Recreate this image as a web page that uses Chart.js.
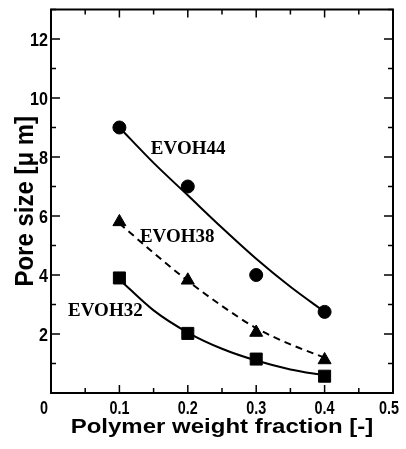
<!DOCTYPE html>
<html>
<head>
<meta charset="utf-8">
<script src="https://cdn.jsdelivr.net/npm/chart.js@4.4.0/dist/chart.umd.min.js"></script>
<style>
  html, body { margin: 0; padding: 0; background: #fff; }
  #wrap { width: 406px; height: 449px; }
</style>
</head>
<body>
<div id="wrap"><canvas id="poreChart"></canvas></div>
<script>
const fractions = [0.1, 0.2, 0.3, 0.4];
const evoh44 = [9.0, 7.0, 4.0, 2.75];
const evoh38 = [5.8, 3.82, 2.05, 1.12];
const evoh32 = [3.9, 2.02, 1.15, 0.57];

// fitted curves
const fitFractions = [0.1, 0.15, 0.2, 0.25, 0.3, 0.35, 0.4];
const fit44 = [9.0, 7.8, 6.7, 5.6, 4.55, 3.6, 2.75];
const fit38 = [5.75, 4.75, 3.8, 2.95, 2.2, 1.65, 1.2];
const fit32 = [3.85, 2.8, 2.05, 1.5, 1.1, 0.8, 0.6];

// axis tick labels
const xTickLabels = ['0', '0.1', '0.2', '0.3', '0.4', '0.5'];
const yTickLabels = ['2', '4', '6', '8', '10', '12'];

// series labels written inside the plot (left end of text, baseline, in data units)
const seriesNames = ['EVOH44', 'EVOH38', 'EVOH32'];
const nameX = [0.146, 0.130, 0.025];
const nameY = [8.1, 5.13, 2.61];

const toPts = (xs, ys) => xs.map((x, i) => ({ x: x, y: ys[i] }));

// frame, inward ticks, tick labels, titles and series names
const framePlugin = {
  id: 'frame',
  afterDraw(chart) {
    const ctx = chart.ctx;
    const a = chart.chartArea;
    const xs = chart.scales.x;
    const ys = chart.scales.y;
    ctx.save();
    ctx.strokeStyle = '#000';
    ctx.lineWidth = 2;
    ctx.strokeRect(a.left, a.top, a.right - a.left, a.bottom - a.top);

    ctx.lineWidth = 1.5;
    ctx.beginPath();
    xs.ticks.forEach(t => {
      const px = xs.getPixelForValue(t.value);
      const major = Math.abs(t.value * 10 - Math.round(t.value * 10)) < 1e-6;
      const len = major ? 8 : 5;
      ctx.moveTo(px, a.bottom); ctx.lineTo(px, a.bottom - len);
      ctx.moveTo(px, a.top); ctx.lineTo(px, a.top + len);
    });
    ys.ticks.forEach(t => {
      const py = ys.getPixelForValue(t.value);
      const major = Math.round(t.value) % 2 === 0;
      const len = major ? 9 : 5;
      ctx.moveTo(a.left, py); ctx.lineTo(a.left + len, py);
      ctx.moveTo(a.right, py); ctx.lineTo(a.right - len, py);
    });
    ctx.stroke();

    ctx.fillStyle = '#000';
    ctx.textBaseline = 'alphabetic';

    // x tick labels, condensed bold
    ctx.font = "bold 18px 'Liberation Sans', Arial, sans-serif";
    ctx.textAlign = 'center';
    xTickLabels.forEach((lab, i) => {
      let px = xs.getPixelForValue(i / 10);
      if (i === 0) px -= 7;
      if (i === xTickLabels.length - 1) px -= 4;
      ctx.save();
      ctx.translate(px, a.bottom + 21);
      ctx.scale(0.8, 1);
      ctx.fillText(lab, 0, 0);
      ctx.restore();
    });

    // y tick labels
    ctx.font = "bold 19px 'Liberation Sans', Arial, sans-serif";
    ctx.textAlign = 'right';
    yTickLabels.forEach((lab, i) => {
      const py = ys.getPixelForValue((i + 1) * 2);
      ctx.save();
      ctx.translate(a.left - 3, py + 7);
      ctx.scale(0.85, 1);
      ctx.fillText(lab, 0, 0);
      ctx.restore();
    });

    // axis titles
    ctx.font = "bold 24px 'Liberation Sans', Arial, sans-serif";
    ctx.textAlign = 'center';
    ctx.save();
    ctx.translate((a.left + a.right) / 2, 433);
    ctx.scale(1, 0.88);
    ctx.fillText('Polymer weight fraction [-]', 0, 0);
    ctx.restore();

    ctx.save();
    ctx.translate(33, (a.top + a.bottom) / 2);
    ctx.rotate(-Math.PI / 2);
    ctx.scale(1, 1.1);
    ctx.fillText('Pore size [\u03bc m]', 0, 0);
    ctx.restore();

    // series names
    ctx.font = "bold 19px 'Liberation Serif', 'Times New Roman', serif";
    ctx.textAlign = 'left';
    seriesNames.forEach((name, i) => {
      ctx.fillText(name, xs.getPixelForValue(nameX[i]), ys.getPixelForValue(nameY[i]));
    });
    ctx.restore();
  }
};

new Chart(document.getElementById('poreChart'), {
  type: 'scatter',
  data: {
    datasets: [
      { label: 'EVOH44', data: toPts(fractions, evoh44), pointStyle: 'circle', pointRadius: 6.5,
        backgroundColor: '#000', borderColor: '#000', showLine: false },
      { label: 'EVOH38', data: toPts(fractions, evoh38), pointStyle: 'triangle', pointRadius: 7.5,
        backgroundColor: '#000', borderColor: '#000', showLine: false },
      { label: 'EVOH32', data: toPts(fractions, evoh32), pointStyle: 'rect', pointRadius: 8.5,
        backgroundColor: '#000', borderColor: '#000', showLine: false },
      { label: 'fit44', data: toPts(fitFractions, fit44), showLine: true, pointRadius: 0,
        borderColor: '#000', borderWidth: 2, cubicInterpolationMode: 'monotone' },
      { label: 'fit38', data: toPts(fitFractions, fit38), showLine: true, pointRadius: 0,
        borderColor: '#000', borderWidth: 2, borderDash: [7, 5], cubicInterpolationMode: 'monotone' },
      { label: 'fit32', data: toPts(fitFractions, fit32), showLine: true, pointRadius: 0,
        borderColor: '#000', borderWidth: 2, cubicInterpolationMode: 'monotone' }
    ]
  },
  options: {
    responsive: true,
    maintainAspectRatio: false,
    animation: false,
    layout: { padding: { top: 8, right: 13, bottom: 0, left: 0 } },
    plugins: { legend: { display: false }, tooltip: { enabled: false } },
    scales: {
      x: {
        type: 'linear',
        min: 0,
        max: 0.5,
        afterFit(scale) { scale.height = 56; },
        grid: { display: false },
        border: { display: false },
        ticks: { stepSize: 0.05, autoSkip: false, display: false }
      },
      y: {
        type: 'linear',
        min: 0,
        max: 13,
        afterFit(scale) { scale.width = 51; },
        grid: { display: false },
        border: { display: false },
        ticks: { stepSize: 1, autoSkip: false, display: false }
      }
    }
  },
  plugins: [framePlugin]
});
</script>
</body>
</html>
